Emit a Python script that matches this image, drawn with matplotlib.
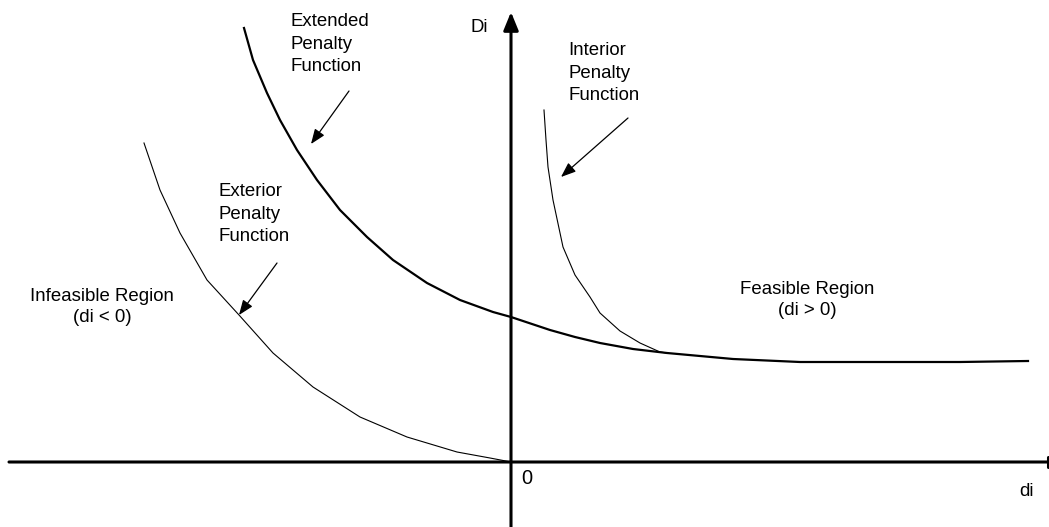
import matplotlib.pyplot as plt

plt.rcParams['font.family'] = ['Liberation Sans', 'DejaVu Sans']

# Krivky odčítané z obrázka (x = di, y = Di, ľubovoľné jednotky)
ext_x = [-2.67, -2.58, -2.44, -2.31, -2.14, -1.94, -1.71, -1.44, -1.18, -0.84,
         -0.51, -0.18, 0.0, 0.39, 0.64, 0.89, 1.22, 1.56, 2.22, 2.89, 3.69, 4.49, 5.17]
ext_y = [4.34, 4.02, 3.69, 3.42, 3.12, 2.82, 2.52, 2.25, 2.02, 1.79,
         1.62, 1.50, 1.45, 1.32, 1.25, 1.19, 1.13, 1.09, 1.03, 1.00, 1.00, 1.00, 1.01]

exterior_x = [-3.67, -3.51, -3.31, -3.04, -2.72, -2.38, -1.98, -1.51, -1.04,
              -0.54, -0.21, 0.0]
exterior_y = [3.19, 2.72, 2.29, 1.82, 1.47, 1.09, 0.75, 0.45, 0.25,
              0.10, 0.04, 0.0]

interior_x = [0.33, 0.35, 0.37, 0.42, 0.52, 0.64, 0.79, 0.89, 1.09, 1.29, 1.49, 1.56]
interior_y = [3.52, 3.22, 2.95, 2.62, 2.15, 1.87, 1.65, 1.49, 1.31, 1.19, 1.10, 1.09]

fig = plt.figure(figsize=(10.49, 5.27), dpi=100)
ax = fig.add_axes([0, 0, 1, 1])
ax.set_xlim(-5.11, 5.38)
ax.set_ylim(-0.65, 4.62)
ax.axis('off')

# osi
ax.annotate('', xy=(0, 4.50), xytext=(0, -0.66),
            arrowprops=dict(arrowstyle='-|>,head_length=1.1,head_width=0.45',
                            lw=2.2, color='black', shrinkA=0, shrinkB=0))
ax.annotate('', xy=(5.37, 0), xytext=(-5.02, 0),
            arrowprops=dict(arrowstyle='|-|,widthA=0,widthB=0.35',
                            lw=2.2, color='black', shrinkA=0, shrinkB=0))

# krivky
ax.plot(ext_x, ext_y, color='black', lw=1.6, solid_joinstyle='round')
ax.plot(exterior_x, exterior_y, color='black', lw=0.8, solid_joinstyle='round')
ax.plot(interior_x, interior_y, color='black', lw=0.8, solid_joinstyle='round')

# šípky k popisom
sipka = dict(arrowstyle='-|>,head_length=0.9,head_width=0.35', lw=0.9,
             color='black', shrinkA=0, shrinkB=0)
ax.annotate('', xy=(-2.00, 3.18), xytext=(-1.62, 3.71), arrowprops=sipka)
ax.annotate('', xy=(-2.72, 1.47), xytext=(-2.34, 1.99), arrowprops=sipka)
ax.annotate('', xy=(0.50, 2.85), xytext=(1.17, 3.44), arrowprops=sipka)

fs = 13.4
ax.text(-2.21, 4.18, 'Extended\nPenalty\nFunction', fontsize=fs, ha='left',
        va='center', linespacing=1.46)
ax.text(-2.93, 2.48, 'Exterior\nPenalty\nFunction', fontsize=fs, ha='left',
        va='center', linespacing=1.46)
ax.text(0.57, 3.89, 'Interior\nPenalty\nFunction', fontsize=fs, ha='left',
        va='center', linespacing=1.46)
ax.text(-4.09, 1.55, 'Infeasible Region\n(di < 0)', fontsize=fs, ha='center',
        va='center', multialignment='center', linespacing=1.31)
ax.text(2.96, 1.62, 'Feasible Region\n(di > 0)', fontsize=fs, ha='center',
        va='center', multialignment='center', linespacing=1.31)
ax.text(-0.32, 4.35, 'Di', fontsize=fs, ha='center', va='center')
ax.text(0.16, -0.16, '0', fontsize=fs + 1, ha='center', va='center')
ax.text(5.15, -0.29, 'di', fontsize=fs, ha='center', va='center')

fig.savefig('out.png', dpi=100)
